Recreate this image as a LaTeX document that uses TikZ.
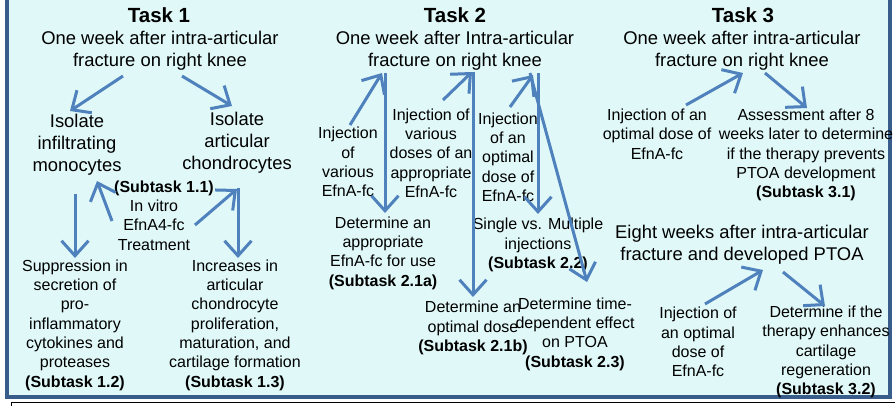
\documentclass[tikz,border=0pt]{standalone}
\usepackage{fontspec}
\setmainfont{Liberation Sans}
\usetikzlibrary{arrows.meta}
\definecolor{bgc}{RGB}{224,248,248}
\definecolor{bordc}{RGB}{56,93,138}
\definecolor{arrc}{RGB}{79,129,189}
\tikzset{
  ttl/.style={inner sep=0pt, align=center, font=\fontsize{20.5}{24}\selectfont\bfseries},
  bigtxt/.style={inner sep=0pt, align=center, font=\fontsize{18.4}{22}\selectfont},
  smtxt/.style={inner sep=0pt, align=center, font=\fontsize{16}{19.3}\selectfont},
  arr/.style={draw=arrc, line width=3pt, -{Straight Barb[length=15pt,width=27pt]}},
}
\begin{document}
\begin{tikzpicture}[x=1pt,y=-1pt]
\useasboundingbox (0,0) rectangle (895,405);
\fill[bgc] (7,-5) rectangle (890,397);
\draw[bordc, line width=4pt] (7,-5) -- (7,397) -- (890,397) -- (890,-5);
\draw[black, line width=1pt] (11,412) -- (11,402) -- (900,402);

% Task 1
\node[ttl] (t1title) at (159,15) {Task 1};
\node[bigtxt] (t1head) at (160,51) {One week after intra-articular\\fracture on right knee};
\node[bigtxt] (iso1) at (77,145) {Isolate\\infiltrating\\monocytes};
\node[bigtxt] (iso2) at (237,143) {Isolate\\articular\\chondrocytes};
\node[smtxt, font=\fontsize{16}{19.3}\selectfont\bfseries] (sub11) at (164,188) {(Subtask 1.1)};
\node[smtxt] (invitro) at (154,225) {In vitro\\EfnA4-fc\\Treatment};
\node[smtxt] (supp) at (75,325) {Suppression in\\secretion of\\pro-\\inflammatory\\cytokines and\\proteases\\\textbf{(Subtask 1.2)}};
\node[smtxt] (incr) at (235,325) {Increases in\\articular\\chondrocyte\\proliferation,\\maturation, and\\cartilage formation\\\textbf{(Subtask 1.3)}};

\draw[arr] ([shift={(-37,25)}]t1head.center) -- ([shift={(-7,-34)}]iso1.center);
\draw[arr] ([shift={(22,25)}]t1head.center) -- ([shift={(-5,-37)}]iso2.center);
\draw[arr] ([shift={(-42,-4)}]invitro.center) -- ([shift={(20,36)}]iso1.center);
\draw[arr] ([shift={(41,0)}]invitro.center) -- ([shift={(0,46)}]iso2.center);
\draw[arr] ([shift={(-2,49)}]iso1.center) -- ([shift={(0,-67)}]supp.center);
\draw[arr] ([shift={(1,45)}]iso2.center) -- ([shift={(3,-67)}]incr.center);

% Task 2
\node[ttl] (t2title) at (455,15) {Task 2};
\node[bigtxt] (t2head) at (455,51) {One week after Intra-articular\\fracture on right knee};
\node[smtxt] (inj21) at (348,162) {Injection\\of\\various\\EfnA-fc};
\node[smtxt] (inj22) at (431,153) {Injection of\\various\\doses of an\\appropriate\\EfnA-fc};
\node[smtxt] (inj23) at (508,157) {Injection\\of an\\optimal\\dose of\\EfnA-fc};
\node[smtxt] (det21a) at (383,253) {Determine an\\appropriate\\EfnA-fc for use\\\textbf{(Subtask 2.1a)}};
\node[smtxt] (single) at (538,245) {Single vs. Multiple\\injections\\\textbf{(Subtask 2.2)}};
\node[smtxt] (det21b) at (473,328) {Determine an\\optimal dose\\\textbf{(Subtask 2.1b)}};
\node[smtxt] (det23) at (575,334) {Determine time-\\dependent effect\\on PTOA\\\textbf{(Subtask 2.3)}};

\draw[arr] ([shift={(2,-37)}]inj21.center) -- ([shift={(-73,22)}]t2head.center);
\draw[arr] ([shift={(-70,22)}]t2head.center) -- ([shift={(2,-40)}]det21a.center);
\draw[arr] ([shift={(12,-53)}]inj22.center) -- ([shift={(17,21)}]t2head.center);
\draw[arr] ([shift={(18,21)}]t2head.center) -- ([shift={(0,-31)}]det21b.center);
\draw[arr] ([shift={(2,-50)}]inj23.center) -- ([shift={(78,24)}]t2head.center);
\draw[arr] ([shift={(83,22)}]t2head.center) -- ([shift={(0,-31)}]single.center);
\draw[arr] ([shift={(75,22)}]t2head.center) -- ([shift={(12,-52)}]det23.center);

% Task 3
\node[ttl] (t3title) at (743,15) {Task 3};
\node[bigtxt] (t3head) at (742,51) {One week after intra-articular\\fracture on right knee};
\node[smtxt] (inj31) at (657,134) {Injection of an\\optimal dose of\\EfnA-fc};
\node[smtxt] (assess) at (806,155) {Assessment after 8\\weeks later to determine\\if the therapy prevents\\PTOA development\\\textbf{(Subtask 3.1)}};
\node[bigtxt] (eight) at (742,245) {Eight weeks after intra-articular\\fracture and developed PTOA};
\node[smtxt] (inj32) at (698,342) {Injection of\\an optimal\\dose of\\EfnA-fc};
\node[smtxt] (det32) at (826,352) {Determine if the\\therapy enhances\\cartilage\\regeneration\\\textbf{(Subtask 3.2)}};

\draw[arr] ([shift={(29,-29)}]inj31.center) -- ([shift={(1,22)}]t3head.center);
\draw[arr] ([shift={(23,22)}]t3head.center) -- ([shift={(1,-47)}]assess.center);
\draw[arr] ([shift={(7,-38)}]inj32.center) -- ([shift={(21,25)}]eight.center);
\draw[arr] ([shift={(41,27)}]eight.center) -- ([shift={(-1,-46)}]det32.center);
\end{tikzpicture}
\end{document}
